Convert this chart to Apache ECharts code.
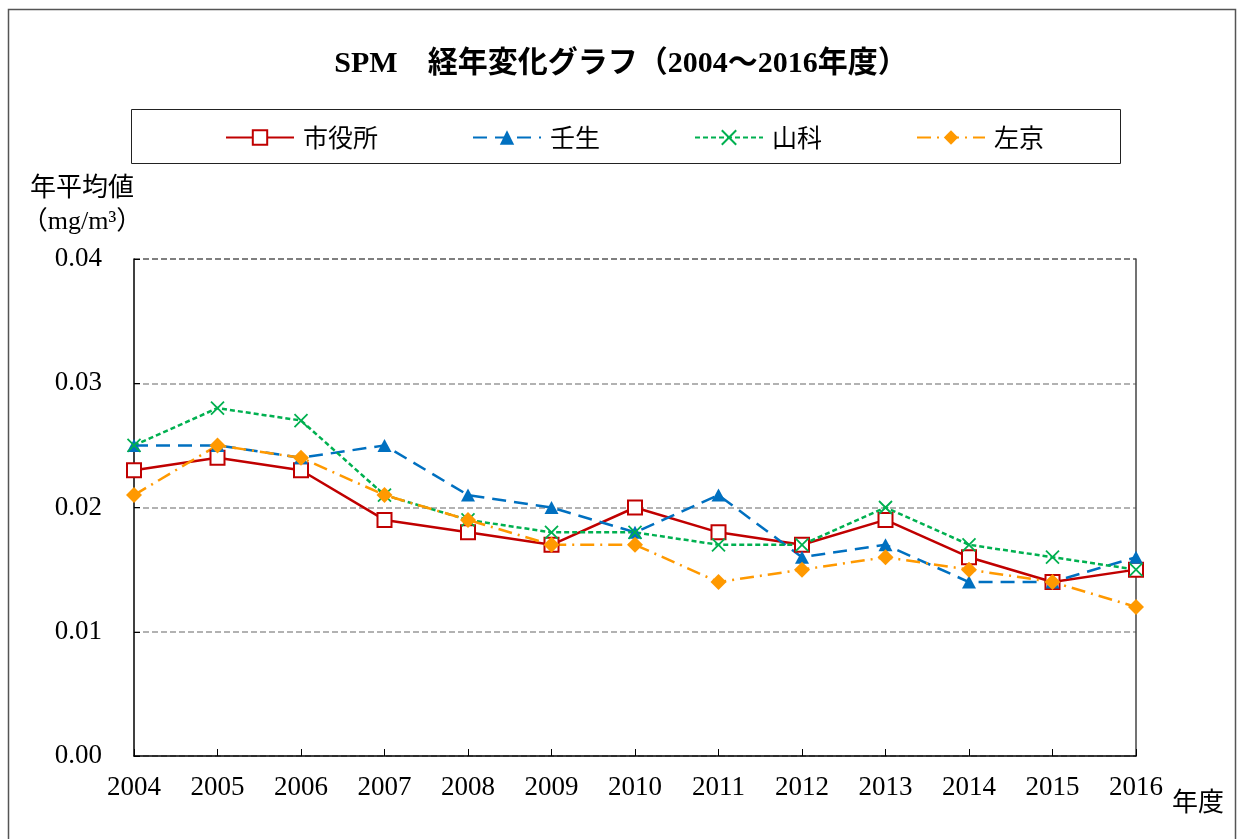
<!DOCTYPE html>
<html>
<head>
<meta charset="utf-8">
<script src="https://cdn.jsdelivr.net/npm/echarts@6/dist/echarts.min.js"></script>
<style>
html,body{margin:0;padding:0;background:#fff;}
#c{width:1242px;height:839px;}
</style>
</head>
<body>
<div id="c"></div>
<script>
const years = ['2004','2005','2006','2007','2008','2009','2010','2011','2012','2013','2014','2015','2016'];
const shiyakusho = [0.023,0.024,0.023,0.019,0.018,0.017,0.020,0.018,0.017,0.019,0.016,0.014,0.015];
const mibu      = [0.025,0.025,0.024,0.025,0.021,0.020,0.018,0.021,0.016,0.017,0.014,0.014,0.016];
const yamashina = [0.025,0.028,0.027,0.021,0.019,0.018,0.018,0.017,0.017,0.020,0.017,0.016,0.015];
const sakyo     = [0.021,0.025,0.024,0.021,0.019,0.017,0.017,0.014,0.015,0.016,0.015,0.014,0.012];
const yTicks = [0, 0.01, 0.02, 0.03, 0.04];

const serif = '"Liberation Serif","Times New Roman","Noto Sans CJK JP",serif';
const jp = '"Noto Sans CJK JP","Liberation Serif",sans-serif';

const chart = echarts.init(document.getElementById('c'), null, {renderer:'canvas'});
chart.setOption({
  backgroundColor:'#fff',
  animation:false,
  title:{
    text:'SPM　経年変化グラフ（2004～2016年度）',
    left:'center', top:44,
    textStyle:{fontFamily:serif, fontWeight:'bold', fontSize:30, color:'#000'}
  },
  legend:{
    left:220, top:120,
    itemWidth:68, itemHeight:18, itemGap:94,
    textStyle:{fontFamily:jp, fontSize:25, color:'#000', padding:[0,0,0,4]},
    data:['市役所','壬生','山科','左京']
  },
  graphic:[
    {type:'rect', shape:{x:8.5,y:9.5,width:1227,height:840}, style:{fill:'none',stroke:'#555',lineWidth:1.5}, silent:true, z:-1},
    {type:'rect', shape:{x:131.5,y:109.5,width:989,height:54}, style:{fill:'none',stroke:'#222',lineWidth:1}, silent:true, z:-1},
    {type:'text', x:82, y:186, style:{text:'年平均値', font:'26px '+jp, fill:'#000', textAlign:'center', textVerticalAlign:'middle'}},
    {type:'text', x:82, y:222, style:{text:'（mg/m³）', font:'26px '+serif, fill:'#000', textAlign:'center', textVerticalAlign:'middle'}},
    {type:'text', x:1172, y:801, style:{text:'年度', font:'26px '+jp, fill:'#000', textAlign:'left', textVerticalAlign:'middle'}}
  ],
  grid:{left:134, right:106, top:259, bottom:83, containLabel:false},
  xAxis:{
    type:'category', data:years, boundaryGap:false,
    axisLine:{lineStyle:{color:'#000',width:1.5}},
    axisTick:{inside:true, length:7, alignWithLabel:true, lineStyle:{color:'#000'}},
    axisLabel:{fontFamily:serif, fontSize:27, color:'#000', margin:18},
    splitLine:{show:false}
  },
  yAxis:[{
    type:'value', min:0, max:0.04, interval:0.01,
    axisLine:{show:true, lineStyle:{color:'#000',width:1.5}},
    axisTick:{show:true, inside:true, length:6, lineStyle:{color:'#000'}},
    axisLabel:{fontFamily:serif, fontSize:27, color:'#000', margin:32,
      formatter:v=>{const t=yTicks.find(x=>Math.abs(x-v)<1e-9); return (t!==undefined?t:v).toFixed(2);}},
    splitLine:{show:true, lineStyle:{type:[6,3], color:['#999','#999','#999','#999','#555'], width:1.5}}
  },{
    type:'value', min:0, max:0.04, interval:0.01, position:'right',
    axisLine:{show:true, lineStyle:{color:'#444',width:1.5}},
    axisTick:{show:false}, axisLabel:{show:false}, splitLine:{show:false}
  }],
  series:[
    {name:'市役所', type:'line', data:shiyakusho, symbol:'emptyRect', symbolSize:14,
      lineStyle:{color:'#C00000', width:2.5},
      itemStyle:{color:'#C00000', borderColor:'#C00000', borderWidth:2}},
    {name:'壬生', type:'line', data:mibu, symbol:'triangle', symbolSize:[14,13],
      lineStyle:{color:'#0070C0', width:2.5, type:[14,8]},
      itemStyle:{color:'#0070C0'}},
    {name:'山科', type:'line', data:yamashina, symbol:'path://M0,0L10,10M10,0L0,10', symbolSize:13,
      lineStyle:{color:'#00B050', width:2.5, type:[5,3]},
      itemStyle:{color:'#00B050', borderColor:'#00B050', borderWidth:1.8}},
    {name:'左京', type:'line', data:sakyo, symbol:'diamond', symbolSize:16,
      lineStyle:{color:'#FF9900', width:2.5, type:[14,6,2,6]},
      itemStyle:{color:'#FF9900'}}
  ]
});
</script>
</body>
</html>
